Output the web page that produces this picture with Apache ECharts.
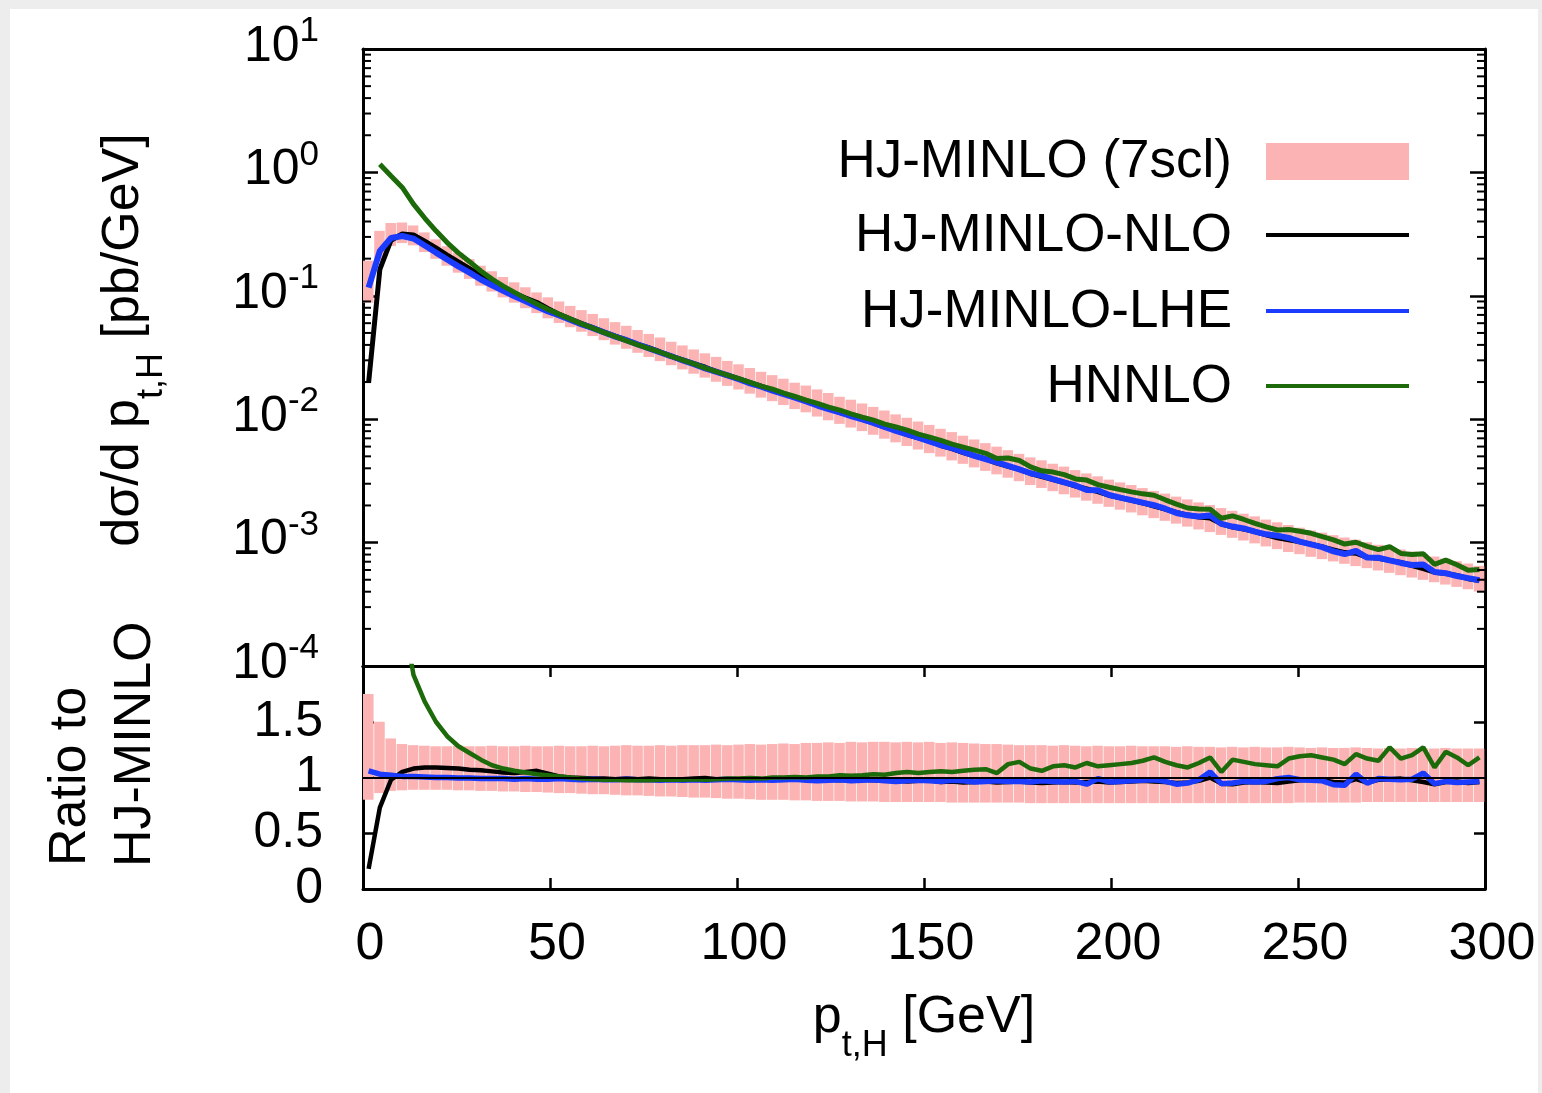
<!DOCTYPE html>
<html>
<head>
<meta charset="utf-8">
<script src="https://cdn.jsdelivr.net/npm/echarts@6/dist/echarts.min.js"></script>
<style>
  html, body { margin: 0; padding: 0; background: #ededed; }
  #sheet { position: absolute; left: 10px; top: 9px; width: 1528px; height: 1084px; background: #ffffff; }
  #chart { position: absolute; left: 0; top: 0; width: 1542px; height: 1093px; }
</style>
</head>
<body>
<div id="sheet"></div>
<div id="chart"></div>
<script>
// Higgs transverse-momentum spectrum, 3 GeV bins (bin centres)
const ptCenters = [
  1.5, 4.5, 7.5, 10.5, 13.5, 16.5, 19.5, 22.5, 25.5, 28.5,
  31.5, 34.5, 37.5, 40.5, 43.5, 46.5, 49.5, 52.5, 55.5, 58.5,
  61.5, 64.5, 67.5, 70.5, 73.5, 76.5, 79.5, 82.5, 85.5, 88.5,
  91.5, 94.5, 97.5, 100.5, 103.5, 106.5, 109.5, 112.5, 115.5, 118.5,
  121.5, 124.5, 127.5, 130.5, 133.5, 136.5, 139.5, 142.5, 145.5, 148.5,
  151.5, 154.5, 157.5, 160.5, 163.5, 166.5, 169.5, 172.5, 175.5, 178.5,
  181.5, 184.5, 187.5, 190.5, 193.5, 196.5, 199.5, 202.5, 205.5, 208.5,
  211.5, 214.5, 217.5, 220.5, 223.5, 226.5, 229.5, 232.5, 235.5, 238.5,
  241.5, 244.5, 247.5, 250.5, 253.5, 256.5, 259.5, 262.5, 265.5, 268.5,
  271.5, 274.5, 277.5, 280.5, 283.5, 286.5, 289.5, 292.5, 295.5, 298.5
];

// HJ-MINLO central value, dsigma/dpt [pb/GeV]
const hjMinloCentral = [
  0.110, 0.224, 0.288, 0.302, 0.288, 0.254, 0.224, 0.197, 0.174, 0.155,
  0.137, 0.123, 0.111, 0.1005, 0.0912, 0.0832, 0.0759, 0.0700, 0.0647, 0.0598,
  0.0555, 0.0514, 0.0476, 0.0443, 0.0411, 0.0382, 0.0356, 0.0330, 0.0307, 0.0285,
  0.0265, 0.0247, 0.0230, 0.0215, 0.0200, 0.0187, 0.0175, 0.0163, 0.0152, 0.0143,
  0.0133, 0.0124, 0.0116, 0.0109, 0.0102, 0.00953, 0.00891, 0.00832, 0.00778, 0.00728,
  0.00681, 0.00638, 0.00598, 0.00561, 0.00525, 0.00492, 0.00461, 0.00433, 0.00406, 0.00380,
  0.00360, 0.00339, 0.00320, 0.00301, 0.00284, 0.00268, 0.00253, 0.00240, 0.00228, 0.00216,
  0.00205, 0.00195, 0.00185, 0.00175, 0.00166, 0.00158, 0.00150, 0.00142, 0.00135, 0.00128,
  0.00121, 0.00115, 0.00109, 0.00104, 0.000991, 0.000948, 0.000908, 0.000869, 0.000832, 0.000796,
  0.000762, 0.000729, 0.000698, 0.000668, 0.000640, 0.000612, 0.000586, 0.000561, 0.000537, 0.000514
];

// 7-point scale variation envelope, relative to the central value
const bandLowRatio = [
  0.80, 0.86, 0.88, 0.885, 0.89, 0.89, 0.89, 0.89, 0.885, 0.885,
  0.88, 0.88, 0.875, 0.875, 0.87, 0.87, 0.865, 0.86, 0.86, 0.855,
  0.85, 0.85, 0.845, 0.84, 0.84, 0.835, 0.83, 0.83, 0.825, 0.82,
  0.82, 0.815, 0.81, 0.81, 0.805, 0.80, 0.80, 0.80, 0.795, 0.795,
  0.79, 0.79, 0.79, 0.785, 0.785, 0.785, 0.78, 0.78, 0.78, 0.78,
  0.78, 0.78, 0.775, 0.775, 0.775, 0.775, 0.775, 0.775, 0.775, 0.77,
  0.77, 0.77, 0.77, 0.77, 0.77, 0.77, 0.77, 0.77, 0.77, 0.77,
  0.77, 0.77, 0.77, 0.77, 0.77, 0.77, 0.77, 0.77, 0.77, 0.77,
  0.77, 0.77, 0.77, 0.775, 0.775, 0.775, 0.775, 0.775, 0.775, 0.78,
  0.78, 0.78, 0.78, 0.78, 0.78, 0.78, 0.78, 0.78, 0.78, 0.78
];
const bandHighRatio = [
  1.75, 1.50, 1.35, 1.30, 1.29, 1.285, 1.28, 1.28, 1.285, 1.28,
  1.28, 1.285, 1.28, 1.28, 1.285, 1.28, 1.28, 1.285, 1.28, 1.28,
  1.285, 1.28, 1.285, 1.29, 1.285, 1.285, 1.29, 1.285, 1.29, 1.29,
  1.29, 1.295, 1.29, 1.295, 1.30, 1.295, 1.30, 1.305, 1.30, 1.31,
  1.31, 1.315, 1.31, 1.32, 1.315, 1.32, 1.32, 1.315, 1.32, 1.315,
  1.32, 1.31, 1.315, 1.31, 1.305, 1.30, 1.30, 1.295, 1.29, 1.29,
  1.29, 1.285, 1.29, 1.285, 1.28, 1.285, 1.28, 1.28, 1.285, 1.28,
  1.28, 1.28, 1.275, 1.28, 1.275, 1.275, 1.27, 1.275, 1.27, 1.275,
  1.27, 1.27, 1.275, 1.27, 1.265, 1.27, 1.265, 1.265, 1.27, 1.265,
  1.26, 1.265, 1.26, 1.265, 1.26, 1.26, 1.265, 1.26, 1.26, 1.26
];

// Ratios to the HJ-MINLO central value
const nloRatio = [
  0.18, 0.73, 0.98, 1.05, 1.08, 1.09, 1.09, 1.085, 1.08, 1.07,
  1.065, 1.055, 1.045, 1.04, 1.05, 1.06, 1.035, 1.01, 1.0, 0.995,
  0.99, 0.99, 0.985, 0.99, 0.985, 0.99, 0.985, 0.98, 0.985, 0.99,
  0.995, 0.985, 0.98, 0.985, 0.99, 0.985, 0.98, 0.985, 0.99, 0.98,
  0.985, 0.98, 0.975, 0.985, 0.98, 0.975, 0.97, 0.975, 0.965, 0.97,
  0.975, 0.96, 0.965, 0.955, 0.96, 0.965, 0.955, 0.96, 0.965, 0.955,
  0.95, 0.955, 0.96, 0.955, 0.96, 0.965, 0.955, 0.96, 0.965, 0.97,
  0.965, 0.96, 0.95, 0.955, 0.97, 1.0, 0.945, 0.94, 0.955, 0.96,
  0.955, 0.95, 0.965, 0.975, 0.98, 0.975, 0.96, 0.955, 0.985, 0.955,
  0.98, 0.985, 0.99, 0.975, 0.96, 0.94, 0.96, 0.965, 0.95, 0.96
];
const lheRatio = [
  1.06, 1.03, 1.02, 1.01, 1.01, 1.005, 1.0, 1.0, 0.995, 0.995,
  0.99, 0.99, 0.99, 0.985, 0.99, 0.985, 0.985, 0.99, 0.985, 0.98,
  0.985, 0.98, 0.98, 0.985, 0.98, 0.98, 0.975, 0.98, 0.975, 0.98,
  0.975, 0.98, 0.985, 0.98, 0.975, 0.98, 0.975, 0.98, 0.985, 0.975,
  0.97, 0.975, 0.98, 0.97, 0.975, 0.98, 0.97, 0.965, 0.97, 0.975,
  0.97, 0.965, 0.975, 0.97, 0.96, 0.965, 0.97, 0.965, 0.965, 0.96,
  0.97, 0.965, 0.96, 0.965, 0.94, 0.99, 0.96, 0.965, 0.97, 0.975,
  0.98, 0.965, 0.94, 0.95, 0.98, 1.05, 0.945, 0.95, 0.965, 0.96,
  0.965, 0.99, 1.0, 0.98, 0.975, 0.97, 0.935, 0.93, 1.03, 0.95,
  0.99, 0.985, 0.98, 0.985, 1.04, 0.945, 0.965, 0.955, 0.96, 0.965
];
const hnnloRatio = [
  null, 5.2, 3.25, 2.5, 1.92, 1.68, 1.50, 1.37, 1.28, 1.22,
  1.16, 1.11, 1.08, 1.06, 1.045, 1.03, 1.02, 1.01, 1.0, 0.99,
  0.985, 0.98, 0.98, 0.975, 0.975, 0.975, 0.98, 0.98, 0.98, 0.985,
  0.98, 0.985, 0.99, 0.99, 0.995, 0.99, 1.0, 1.0, 1.005, 1.0,
  1.01, 1.01, 1.02, 1.015, 1.02, 1.03, 1.025, 1.04, 1.05, 1.04,
  1.05, 1.055, 1.05, 1.06, 1.07, 1.075, 1.04, 1.12, 1.14, 1.08,
  1.06, 1.10, 1.11, 1.09, 1.13, 1.10, 1.11, 1.12, 1.13, 1.15,
  1.18, 1.14, 1.11, 1.09, 1.13, 1.18, 1.05, 1.16, 1.14, 1.12,
  1.11, 1.10, 1.17, 1.19, 1.20, 1.18, 1.16, 1.12, 1.21, 1.17,
  1.15, 1.27, 1.17, 1.20, 1.27, 1.09, 1.23, 1.18, 1.11, 1.18
];

const seriesNames = ['HJ-MINLO (7scl)', 'HJ-MINLO-NLO', 'HJ-MINLO-LHE', 'HNNLO'];

const FONT = '"Liberation Sans", Arial, Helvetica, sans-serif';
const PINK = '#fbb3b3';
const BLACK = '#000000';
const BLUE = '#1b3bff';
const GREEN = '#1c6a0a';

const halfBin = (ptCenters[1] - ptCenters[0]) / 2;

// absolute distributions built from the central value and the ratios
const bandTop = ptCenters.map((p, i) => [p, hjMinloCentral[i] * bandLowRatio[i], hjMinloCentral[i] * bandHighRatio[i]]);
const bandRatio = ptCenters.map((p, i) => [p, bandLowRatio[i], bandHighRatio[i]]);
const absolute = (ratio) => ptCenters
  .map((p, i) => (ratio[i] == null ? null : [p, hjMinloCentral[i] * ratio[i]]))
  .filter((d) => d !== null);
const relative = (ratio) => ptCenters
  .map((p, i) => (ratio[i] == null ? null : [p, ratio[i]]))
  .filter((d) => d !== null);

// log-axis minor tick values (2..9 x 10^k)
const minorLogTicks = [];
for (let e = -4; e <= 0; e++) {
  for (let k = 2; k <= 9; k++) minorLogTicks.push([0, k * Math.pow(10, e)]);
}

function bandItem(params, api) {
  const x = api.value(0);
  const pHi = api.coord([x - halfBin, api.value(2)]);
  const pLo = api.coord([x + halfBin, api.value(1)]);
  return {
    type: 'rect',
    shape: { x: pHi[0], y: pHi[1], width: pLo[0] - pHi[0] - 0.7, height: pLo[1] - pHi[1] },
    style: { fill: PINK }
  };
}

function minorTickItem(params, api) {
  const v = api.value(1);
  const l = api.coord([0, v]);
  const r = api.coord([300, v]);
  return {
    type: 'group',
    children: [
      { type: 'line', shape: { x1: l[0], y1: l[1], x2: l[0] + 8, y2: l[1] }, style: { stroke: BLACK, lineWidth: 2 } },
      { type: 'line', shape: { x1: r[0] - 8, y1: r[1], x2: r[0], y2: r[1] }, style: { stroke: BLACK, lineWidth: 2 } }
    ]
  };
}

const frameLine = { show: true, onZero: false, lineStyle: { color: BLACK, width: 3 } };
const labelBase = { fontFamily: FONT, color: BLACK };

const chart = echarts.init(document.getElementById('chart'), null, { renderer: 'canvas' });

const option = {
  animation: false,
  backgroundColor: 'transparent',
  grid: [
    { left: 363, top: 49, width: 1122, height: 617 },
    { left: 363, top: 666, width: 1122, height: 223 }
  ],
  xAxis: [
    { gridIndex: 0, type: 'value', min: 0, max: 300, interval: 50, position: 'bottom',
      axisLine: frameLine, axisTick: { show: false }, axisLabel: { show: false }, splitLine: { show: false } },
    { gridIndex: 0, type: 'value', min: 0, max: 300, interval: 50, position: 'top',
      axisLine: frameLine, axisTick: { show: false }, axisLabel: { show: false }, splitLine: { show: false } },
    { gridIndex: 1, type: 'value', min: 0, max: 300, interval: 50, position: 'bottom',
      axisLine: frameLine,
      axisTick: { show: true, inside: true, length: 11, lineStyle: { color: BLACK, width: 2.5 } },
      axisLabel: { ...labelBase, fontSize: 52, margin: 30, padding: [0, 0, 0, 14] },
      splitLine: { show: false } },
    { gridIndex: 1, type: 'value', min: 0, max: 300, interval: 50, position: 'top',
      axisLine: frameLine,
      axisTick: { show: true, inside: true, length: 11, lineStyle: { color: BLACK, width: 2.5 } },
      axisLabel: { show: false }, splitLine: { show: false } }
  ],
  yAxis: [
    { gridIndex: 0, type: 'log', logBase: 10, min: 1e-4, max: 10, position: 'left',
      axisLine: frameLine,
      axisTick: { show: true, inside: true, length: 15, lineStyle: { color: BLACK, width: 2.5 } },
      axisLabel: {
        margin: 44,
        formatter: (v) => '{b|10}{s|' + Math.round(Math.log10(v)) + '}',
        rich: {
          b: { ...labelBase, fontSize: 50, lineHeight: 70, verticalAlign: 'top', padding: [8, 0, 0, 0] },
          s: { ...labelBase, fontSize: 35, lineHeight: 36, verticalAlign: 'top' }
        }
      },
      splitLine: { show: false } },
    { gridIndex: 0, type: 'log', logBase: 10, min: 1e-4, max: 10, position: 'right',
      axisLine: frameLine,
      axisTick: { show: true, inside: true, length: 15, lineStyle: { color: BLACK, width: 2.5 } },
      axisLabel: { show: false }, splitLine: { show: false } },
    { gridIndex: 1, type: 'value', min: 0, max: 2, interval: 0.5, position: 'left',
      axisLine: frameLine,
      axisTick: { show: true, inside: true, length: 11, lineStyle: { color: BLACK, width: 2.5 } },
      axisLabel: { ...labelBase, fontSize: 50, margin: 40, formatter: (v) => (v >= 2 ? '' : String(v)) },
      splitLine: { show: false } },
    { gridIndex: 1, type: 'value', min: 0, max: 2, interval: 0.5, position: 'right',
      axisLine: frameLine,
      axisTick: { show: true, inside: true, length: 11, lineStyle: { color: BLACK, width: 2.5 } },
      axisLabel: { show: false }, splitLine: { show: false } }
  ],
  series: [
    // upper panel: absolute distributions
    { name: seriesNames[0], type: 'custom', xAxisIndex: 0, yAxisIndex: 0, z: 1, clip: true,
      dimensions: ['pt', 'lo', 'hi'], encode: { x: 0, y: [1, 2] },
      renderItem: bandItem, data: bandTop },
    { name: seriesNames[1], type: 'line', xAxisIndex: 0, yAxisIndex: 0, z: 2,
      showSymbol: false, lineStyle: { color: BLACK, width: 5 }, data: absolute(nloRatio) },
    { name: seriesNames[2], type: 'line', xAxisIndex: 0, yAxisIndex: 0, z: 3,
      showSymbol: false, lineStyle: { color: BLUE, width: 6 }, data: absolute(lheRatio) },
    { name: seriesNames[3], type: 'line', xAxisIndex: 0, yAxisIndex: 0, z: 4,
      showSymbol: false, lineStyle: { color: GREEN, width: 5 }, data: absolute(hnnloRatio) },
    { type: 'custom', xAxisIndex: 0, yAxisIndex: 0, z: 6, silent: true,
      dimensions: ['x', 'v'], encode: { x: 0, y: 1 },
      renderItem: minorTickItem, data: minorLogTicks },

    // lower panel: ratio to HJ-MINLO
    { name: seriesNames[0] + ' ratio', type: 'custom', xAxisIndex: 2, yAxisIndex: 2, z: 1, clip: true,
      dimensions: ['pt', 'lo', 'hi'], encode: { x: 0, y: [1, 2] },
      renderItem: bandItem, data: bandRatio },
    { name: seriesNames[1] + ' ratio', type: 'line', xAxisIndex: 2, yAxisIndex: 2, z: 2,
      showSymbol: false, lineStyle: { color: BLACK, width: 4.5 }, data: relative(nloRatio),
      markLine: { silent: true, symbol: 'none', label: { show: false },
        lineStyle: { color: BLACK, width: 2, type: 'solid' }, data: [{ yAxis: 1 }] } },
    { name: seriesNames[2] + ' ratio', type: 'line', xAxisIndex: 2, yAxisIndex: 2, z: 3,
      showSymbol: false, lineStyle: { color: BLUE, width: 5.5 }, data: relative(lheRatio) },
    { name: seriesNames[3] + ' ratio', type: 'line', xAxisIndex: 2, yAxisIndex: 2, z: 4,
      showSymbol: false, lineStyle: { color: GREEN, width: 4.5 }, data: relative(hnnloRatio) }
  ],
  graphic: [
    // key
    { type: 'text', x: 1232, y: 162, style: { text: seriesNames[0], font: '53px ' + FONT, fill: BLACK, align: 'right', verticalAlign: 'middle' } },
    { type: 'rect', shape: { x: 1266, y: 143, width: 143, height: 37 }, style: { fill: PINK } },
    { type: 'text', x: 1232, y: 236, style: { text: seriesNames[1], font: '53px ' + FONT, fill: BLACK, align: 'right', verticalAlign: 'middle' } },
    { type: 'line', shape: { x1: 1266, y1: 235, x2: 1409, y2: 235 }, style: { stroke: BLACK, lineWidth: 4 } },
    { type: 'text', x: 1232, y: 312, style: { text: seriesNames[2], font: '53px ' + FONT, fill: BLACK, align: 'right', verticalAlign: 'middle' } },
    { type: 'line', shape: { x1: 1266, y1: 311, x2: 1409, y2: 311 }, style: { stroke: BLUE, lineWidth: 4 } },
    { type: 'text', x: 1232, y: 387, style: { text: seriesNames[3], font: '53px ' + FONT, fill: BLACK, align: 'right', verticalAlign: 'middle' } },
    { type: 'line', shape: { x1: 1266, y1: 386, x2: 1409, y2: 386 }, style: { stroke: GREEN, lineWidth: 4 } },

    // axis titles
    { type: 'text', x: 924, y: 1022,
      style: { text: '{a|p}{s|t,H}{a| [GeV]}', align: 'center', verticalAlign: 'middle',
        rich: {
          a: { fontFamily: FONT, fontSize: 52, color: BLACK, lineHeight: 60, verticalAlign: 'top' },
          s: { fontFamily: FONT, fontSize: 36, color: BLACK, lineHeight: 36, padding: [36, 0, 0, 0], verticalAlign: 'top' }
        } } },
    { type: 'text', x: 128, y: 340, rotation: Math.PI / 2,
      style: { text: '{a|dσ/d p}{s|t,H}{a| [pb/GeV]}', align: 'center', verticalAlign: 'middle',
        rich: {
          a: { fontFamily: FONT, fontSize: 52, color: BLACK, lineHeight: 60, verticalAlign: 'top' },
          s: { fontFamily: FONT, fontSize: 36, color: BLACK, lineHeight: 36, padding: [36, 0, 0, 0], verticalAlign: 'top' }
        } } },
    { type: 'text', x: 71, y: 866, rotation: Math.PI / 2,
      style: { text: 'Ratio to', font: '52px ' + FONT, fill: BLACK, align: 'left', verticalAlign: 'middle' } },
    { type: 'text', x: 136, y: 867, rotation: Math.PI / 2,
      style: { text: 'HJ-MINLO', font: '52px ' + FONT, fill: BLACK, align: 'left', verticalAlign: 'middle' } }
  ]
};

chart.setOption(option);
</script>
</body>
</html>
